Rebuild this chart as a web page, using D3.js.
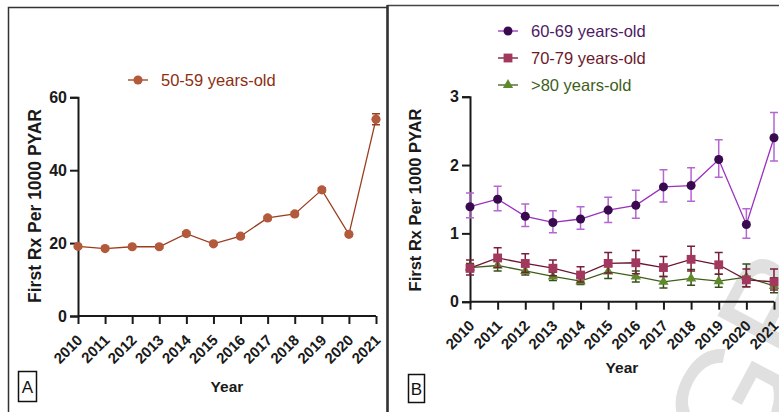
<!DOCTYPE html>
<html>
<head>
<meta charset="utf-8">
<style>
  body { margin: 0; background: #fff; }
  svg { display: block; font-family: "Liberation Sans", Arial, sans-serif; }
</style>
</head>
<body>
<svg id="chart" width="779" height="412"></svg>
<script src="https://cdn.jsdelivr.net/npm/d3@7"></script>
<script>
// years on the x axis (both panels)
var years = ["2010","2011","2012","2013","2014","2015","2016","2017","2018","2019","2020","2021"];

// panel A: 50-59 years-old
var a5059 = [19.1, 18.5, 19.0, 19.0, 22.6, 19.8, 21.9, 26.9, 28.0, 34.6, 22.4, 54.0];
var a5059Err = [0.4, 0.4, 0.4, 0.4, 0.5, 0.4, 0.5, 0.5, 0.5, 0.6, 0.5, 1.5];

// panel B
var b6069 = [1.39, 1.50, 1.25, 1.16, 1.21, 1.34, 1.41, 1.68, 1.70, 2.08, 1.13, 2.40];
var b6069Lo = [1.23, 1.33, 1.10, 1.01, 1.06, 1.16, 1.22, 1.46, 1.47, 1.82, 0.93, 2.06];
var b6069Hi = [1.59, 1.69, 1.43, 1.33, 1.39, 1.53, 1.63, 1.93, 1.96, 2.37, 1.36, 2.77];

var b7079 = [0.49, 0.64, 0.56, 0.49, 0.39, 0.56, 0.57, 0.50, 0.62, 0.54, 0.32, 0.29];
var b7079Lo = [0.39, 0.50, 0.43, 0.38, 0.29, 0.42, 0.41, 0.37, 0.45, 0.40, 0.22, 0.17];
var b7079Hi = [0.61, 0.79, 0.70, 0.61, 0.51, 0.72, 0.75, 0.66, 0.81, 0.72, 0.48, 0.48];

var b80 = [0.50, 0.53, 0.45, 0.37, 0.30, 0.44, 0.37, 0.29, 0.34, 0.30, 0.36, 0.23];
var b80Lo = [0.44, 0.45, 0.39, 0.31, 0.25, 0.34, 0.29, 0.20, 0.24, 0.21, 0.22, 0.13];
var b80Hi = [0.56, 0.61, 0.51, 0.43, 0.36, 0.52, 0.45, 0.37, 0.47, 0.40, 0.55, 0.35];

var svg = d3.select("#chart");

// watermark (behind everything)
svg.append("text")
    .attr("transform", "translate(748,478) rotate(-62)")
    .style("font-size", "150px")
    .attr("fill", "#e0e0e0")
    .text("GB");

// panel frames
svg.append("path").attr("d", "M8.5,412 V7.5 H387.5 V412")
    .attr("fill", "none").attr("stroke", "#333").attr("stroke-width", 1.5);
svg.append("path").attr("d", "M387.5,5.5 H779")
    .attr("fill", "none").attr("stroke", "#444").attr("stroke-width", 1.5);
svg.append("line").attr("x1", 387.5).attr("x2", 387.5).attr("y1", 5).attr("y2", 412)
    .attr("stroke", "#333").attr("stroke-width", 2.5);

function panelLabel(x, y, w, h, t) {
    svg.append("rect").attr("x", x).attr("y", y).attr("width", w).attr("height", h)
        .attr("fill", "#fff").attr("stroke", "#111").attr("stroke-width", 1.5);
    svg.append("text").attr("x", x + w / 2).attr("y", y + h / 2 + 6)
        .attr("text-anchor", "middle").style("font-size", "17px").attr("fill", "#111").text(t);
}
panelLabel(18.5, 371.5, 18, 30, "A");
panelLabel(408.5, 374.5, 16, 28, "B");

function drawAxes(x, y, yTicks, opt) {
    var gx = svg.append("g").attr("transform", "translate(0," + y(0) + ")")
        .call(d3.axisBottom(x).tickSize(8));
    gx.selectAll(".tick text")
        .attr("x", 0).attr("y", 0).attr("dy", 0)
        .attr("text-anchor", "end")
        .attr("transform", "translate(5,25) rotate(-45)")
        .style("font-size", opt.xFont + "px");
    var gy = svg.append("g").attr("transform", "translate(" + x.range()[0] + ",0)")
        .call(d3.axisLeft(y).tickValues(yTicks).tickSize(8).tickPadding(3).tickFormat(d3.format("d")));
    gy.selectAll(".tick text").style("font-size", opt.yFont + "px");
    [gx, gy].forEach(function (g) {
        g.attr("font-family", null);
        g.selectAll(".tick text").attr("font-weight", "bold").attr("fill", "#1a1a1a");
        g.select(".domain").attr("stroke", "#1a1a1a").attr("stroke-width", 2);
        g.selectAll(".tick line").attr("stroke", "#1a1a1a").attr("stroke-width", 2);
    });
    gx.select(".domain").attr("d", "M" + x.range()[0] + ",0H" + x.range()[1]);
    svg.append("text").attr("x", opt.xtX).attr("y", opt.xtY)
        .attr("text-anchor", "middle").attr("font-weight", "bold")
        .style("font-size", "15.5px").attr("fill", "#1a1a1a").text("Year");
    svg.append("text")
        .attr("transform", "translate(" + opt.ytX + "," + opt.ytY + ") rotate(-90)")
        .attr("text-anchor", "middle").attr("font-weight", "bold")
        .style("font-size", opt.ytFont + "px").attr("fill", "#1a1a1a").text("First Rx Per 1000 PYAR");
}

var symbols = { circle: d3.symbolCircle, square: d3.symbolSquare, triangle: d3.symbolTriangle };

function drawSeries(x, y, vals, lo, hi, s) {
    var g = svg.append("g");
    var idx = d3.range(vals.length);
    var ew = 4;
    g.selectAll("path.err").data(idx).enter().append("path")
        .attr("class", "err")
        .attr("d", function (i) {
            var cx = x(years[i]), y1 = y(hi[i]), y2 = y(lo[i]);
            return "M" + (cx - ew) + "," + y1 + "H" + (cx + ew) + "M" + cx + "," + y1 + "V" + y2 +
                "M" + (cx - ew) + "," + y2 + "H" + (cx + ew);
        })
        .attr("fill", "none").attr("stroke", s.err).attr("stroke-width", 1.5);
    g.append("path").datum(idx)
        .attr("d", d3.line().x(function (i) { return x(years[i]); }).y(function (i) { return y(vals[i]); }))
        .attr("fill", "none").attr("stroke", s.line).attr("stroke-width", 1.3);
    g.selectAll("path.pt").data(idx).enter().append("path")
        .attr("class", "pt")
        .attr("transform", function (i) { return "translate(" + x(years[i]) + "," + y(vals[i]) + ")"; })
        .attr("d", d3.symbol().type(symbols[s.shape]).size(s.size))
        .attr("fill", s.fill);
}

function legendItem(x, y, label, s) {
    svg.append("line").attr("x1", x - 10).attr("x2", x + 10).attr("y1", y).attr("y2", y)
        .attr("stroke", s.line).attr("stroke-width", 1.3);
    svg.append("path").attr("transform", "translate(" + x + "," + y + ")")
        .attr("d", d3.symbol().type(symbols[s.shape]).size(s.size)).attr("fill", s.fill);
    svg.append("text").attr("x", x + 23).attr("y", y + 6)
        .style("font-size", "16.5px").attr("fill", s.text).text(label);
}

// ---- Panel A ----
var xA = d3.scalePoint().domain(years).range([78, 376]);
var yA = d3.scaleLinear().domain([0, 60]).range([316, 97.3]);
drawAxes(xA, yA, [0, 20, 40, 60], { xFont: 15, yFont: 16, xtX: 227, xtY: 392, ytX: 41, ytY: 206, ytFont: 17.5 });
var sA = { shape: "circle", size: 66, fill: "#b35a3c", line: "#9a3d1f", err: "#9a3d1f", text: "#8c2f12" };
drawSeries(xA, yA, a5059,
    a5059.map(function (v, i) { return v - a5059Err[i]; }),
    a5059.map(function (v, i) { return v + a5059Err[i]; }), sA);
legendItem(138, 80, "50-59 years-old", sA);

// ---- Panel B ----
var xB = d3.scalePoint().domain(years).range([470, 774]);
var yB = d3.scaleLinear().domain([0, 3]).range([301.7, 96.7]);
drawAxes(xB, yB, [0, 1, 2, 3], { xFont: 15, yFont: 16, xtX: 622, xtY: 373, ytX: 421, ytY: 200, ytFont: 16.5 });
var s80 = { shape: "triangle", size: 46, fill: "#5f8a2b", line: "#3e5e1b", err: "#34501a", text: "#3e5e1c" };
var s7079 = { shape: "square", size: 78, fill: "#a3385f", line: "#6c1530", err: "#7a1c3c", text: "#6b1a2e" };
var s6069 = { shape: "circle", size: 64, fill: "#3a0a4f", line: "#9a2fc0", err: "#b566d2", text: "#4e1865" };
drawSeries(xB, yB, b80, b80Lo, b80Hi, s80);
drawSeries(xB, yB, b7079, b7079Lo, b7079Hi, s7079);
drawSeries(xB, yB, b6069, b6069Lo, b6069Hi, s6069);
legendItem(508, 31, "60-69 years-old", s6069);
legendItem(508, 58, "70-79 years-old", s7079);
legendItem(508, 85, ">80 years-old", s80);
</script>
</body>
</html>
